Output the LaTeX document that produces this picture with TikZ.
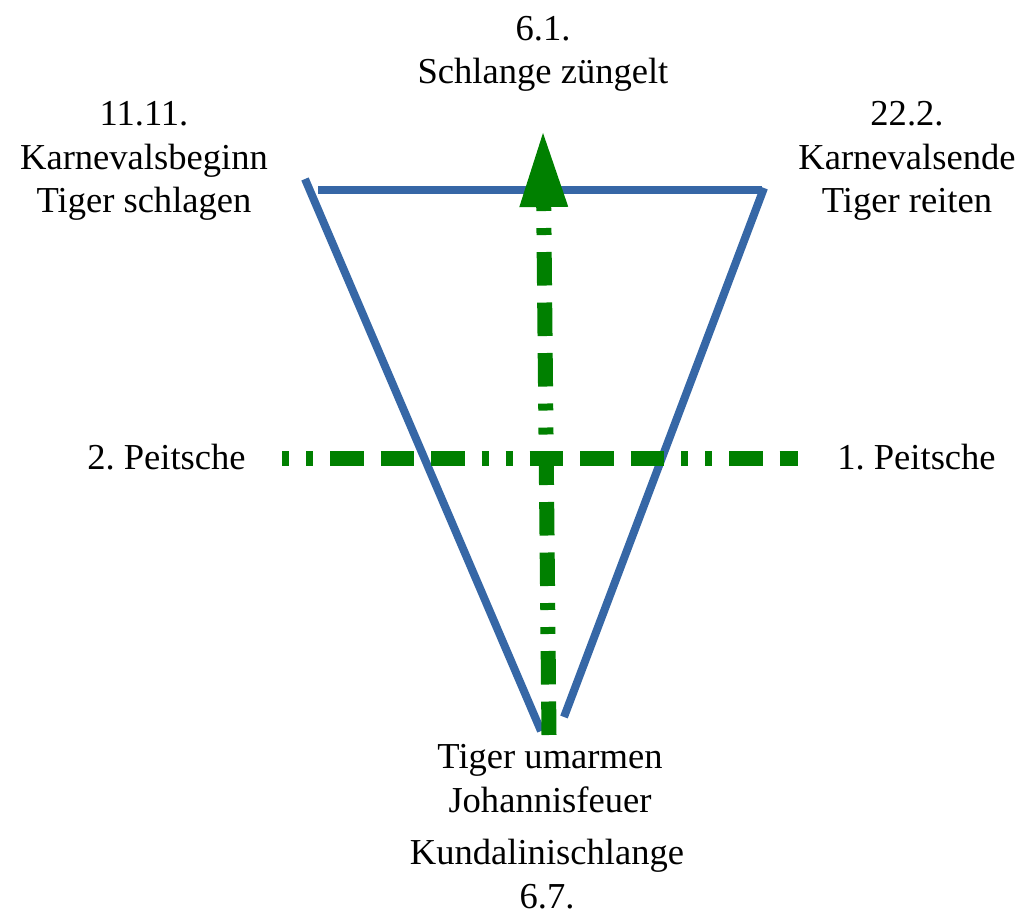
\documentclass[tikz,border=0pt]{standalone}
\usepackage{fontspec}
\setmainfont{Liberation Serif}
\usepackage{tikz}
\usetikzlibrary{arrows.meta}
\definecolor{TriBlue} {RGB}{54,103,166}
\definecolor{AxGreen} {RGB}{0,128,0}
\frenchspacing

\begin{document}
\begin{tikzpicture}[
    side/.style={draw=TriBlue,line width=1.6mm},
    axis/.style={draw=AxGreen,line width=3mm,
      dash pattern=on 1.4mm off 3.4mm on 1.4mm off 3.4mm on 6.7mm off 3.4mm on 6.7mm off 3.4mm on 6.7mm off 3.4mm},
    lbl/.style={font=\fontsize{20.8pt}{25pt}\selectfont,align=center,anchor=base,inner sep=0pt}]
  \useasboundingbox (0,0) rectangle (20.46,18.32);
  % triangle ends
  \coordinate (leftTop) at (6.10,14.74);
  \coordinate (leftBot) at (10.82,3.70);
  \coordinate (topL) at (6.36,14.51);
  \coordinate (topR) at (15.24,14.51);
  \coordinate (rightTop) at (15.28,14.56);
  \coordinate (rightBot) at (11.28,3.98);
  \draw[side] (leftTop) -- (leftBot);
  \draw[side] (topL) -- (topR);
  \draw[side] (rightTop) -- (rightBot);
  % green axes
  \coordinate (whipL) at (5.64,9.14);
  \coordinate (whipR) at (15.96,9.14);
  \coordinate (snakeBot) at (10.98,3.62);
  \coordinate (snakeTop) at (10.86,15.66);
  \draw[axis] (whipL) -- (whipR);
  \draw[axis,dash phase=19.7mm,-{Triangle[length=14.8mm,width=9.8mm,line width=0pt]}] (snakeBot) -- (snakeTop);
  % labels (base = last line)
  \node[lbl] (top) at (10.86,16.64) {6.1.\\Schlange züngelt};
  \node[lbl] (begin) at (2.88,14.06) {11.11.\\Karnevalsbeginn\\Tiger schlagen};
  \node[lbl] (ende) at (18.14,14.06) {22.2.\\Karnevalsende\\Tiger reiten};
  \node[lbl] (whip2) at (3.33,8.92) {2. Peitsche};
  \node[lbl] (whip1) at (18.33,8.92) {1. Peitsche};
  \node[lbl] (fire) at (11.00,2.08) {Tiger umarmen\\Johannisfeuer};
  \node[lbl] (kunda) at (10.94,0.16) {Kundalinischlange\\6.7.};
\end{tikzpicture}
\end{document}
